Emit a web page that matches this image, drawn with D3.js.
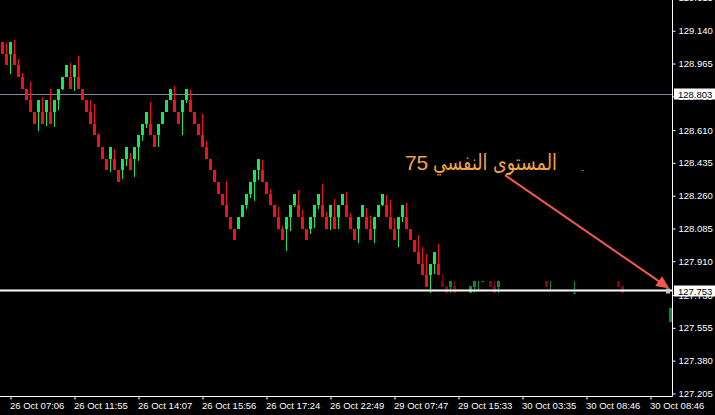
<!DOCTYPE html>
<html>
<head>
<meta charset="utf-8">
<script src="https://cdn.jsdelivr.net/npm/d3@7"></script>
<style>
  html, body { margin: 0; padding: 0; background: #000; }
  svg { display: block; }
</style>
</head>
<body>
<div id="chart"></div>
<script>
// candles 0..109, one per slot
var opens = [129.080,129.018,129.018,129.018,128.955,128.893,128.831,128.769,128.706,128.706,
  128.706,128.706,128.706,128.706,128.769,128.831,128.893,128.893,128.893,128.893,
  128.831,128.769,128.706,128.644,128.582,128.520,128.457,128.457,128.457,128.395,
  128.395,128.457,128.457,128.457,128.520,128.582,128.644,128.644,128.582,128.582,
  128.644,128.706,128.769,128.769,128.706,128.706,128.769,128.769,128.706,128.644,
  128.582,128.520,128.457,128.395,128.333,128.271,128.208,128.146,128.084,128.084,
  128.146,128.208,128.271,128.333,128.395,128.395,128.333,128.271,128.208,128.146,
  128.084,128.084,128.146,128.208,128.208,128.146,128.084,128.084,128.146,128.208,
  128.208,128.146,128.146,128.146,128.146,128.208,128.208,128.146,128.084,128.084,
  128.146,128.146,128.084,128.084,128.146,128.208,128.208,128.146,128.084,128.084,
  128.146,128.146,128.084,128.022,127.959,127.897,127.835,127.835,127.897,127.897];
var highs = [129.080,129.075,129.080,129.091,128.989,128.914,128.831,128.866,128.706,128.769,
  128.786,128.769,128.829,128.769,128.831,128.893,128.955,128.968,128.955,129.005,
  128.831,128.769,128.770,128.749,128.594,128.520,128.457,128.520,128.509,128.395,
  128.457,128.520,128.488,128.520,128.582,128.644,128.706,128.760,128.582,128.644,
  128.706,128.769,128.831,128.845,128.706,128.769,128.831,128.824,128.706,128.644,
  128.696,128.552,128.457,128.395,128.333,128.271,128.338,128.146,128.084,128.146,
  128.208,128.271,128.333,128.395,128.457,128.450,128.333,128.296,128.208,128.199,
  128.098,128.146,128.208,128.271,128.290,128.183,128.084,128.146,128.208,128.271,
  128.322,128.173,128.208,128.242,128.208,128.271,128.280,128.167,128.084,128.146,
  128.208,128.194,128.151,128.146,128.208,128.271,128.263,128.237,128.141,128.146,
  128.208,128.221,128.084,128.022,128.050,127.986,127.949,127.897,127.959,128.002];
var lows = [129.018,128.955,128.909,128.955,128.893,128.831,128.769,128.706,128.644,128.605,
  128.644,128.632,128.644,128.626,128.717,128.824,128.893,128.831,128.818,128.831,
  128.769,128.706,128.644,128.582,128.520,128.457,128.395,128.386,128.395,128.333,
  128.349,128.418,128.395,128.360,128.445,128.552,128.621,128.582,128.520,128.520,
  128.644,128.706,128.769,128.706,128.644,128.584,128.754,128.706,128.644,128.582,
  128.520,128.457,128.395,128.333,128.271,128.208,128.146,128.084,128.022,128.082,
  128.146,128.189,128.247,128.231,128.344,128.333,128.271,128.208,128.146,128.084,
  128.022,127.965,128.071,128.199,128.146,128.084,128.022,128.055,128.087,128.189,
  128.146,128.084,128.077,128.084,128.082,128.208,128.146,128.084,128.022,128.007,
  128.146,128.084,128.022,128.007,128.146,128.205,128.146,128.084,128.022,127.986,
  128.119,128.084,128.022,127.959,127.897,127.835,127.773,127.741,127.842,127.835];
var closes = [129.018,128.955,129.080,128.955,128.893,128.831,128.769,128.706,128.644,128.769,
  128.644,128.769,128.644,128.769,128.831,128.893,128.955,128.831,128.955,128.831,
  128.769,128.706,128.644,128.582,128.520,128.457,128.395,128.520,128.395,128.333,
  128.457,128.520,128.395,128.520,128.582,128.644,128.706,128.582,128.520,128.644,
  128.706,128.769,128.831,128.706,128.644,128.769,128.831,128.706,128.644,128.582,
  128.520,128.457,128.395,128.333,128.271,128.208,128.146,128.084,128.022,128.146,
  128.208,128.271,128.333,128.395,128.457,128.333,128.271,128.208,128.146,128.084,
  128.022,128.146,128.208,128.271,128.146,128.084,128.022,128.146,128.208,128.271,
  128.146,128.084,128.208,128.084,128.208,128.271,128.146,128.084,128.022,128.146,
  128.208,128.084,128.022,128.146,128.208,128.271,128.146,128.084,128.022,128.146,
  128.208,128.084,128.022,127.959,127.897,127.835,127.773,127.897,127.959,127.835];

// thin, dimmed candles after the drop (slot numbers given explicitly)
var lateSlots = [110,111,112,113,117,118,119,120,122,123,124,136,137,143,145,154,155,167];
var lateOpens = [127.805,127.778,127.773,127.778,127.741,127.773,127.757,127.805,127.805,127.778,127.773,127.805,127.757,127.741,128.399,127.805,127.778,127.586];
var lateHighs = [127.842,127.778,127.805,127.805,127.778,127.805,127.805,127.805,127.805,127.805,127.805,127.805,127.805,127.805,128.399,127.805,127.778,127.660];
var lateLows = [127.773,127.741,127.741,127.741,127.741,127.741,127.757,127.805,127.773,127.741,127.741,127.773,127.757,127.741,128.399,127.773,127.741,127.586];
var lateCloses = [127.773,127.741,127.805,127.741,127.778,127.805,127.757,127.805,127.773,127.741,127.805,127.773,127.757,127.741,128.399,127.773,127.741,127.660];

// price axis labels and time axis labels
var priceTicks = [129.315,129.140,128.965,128.790,128.610,128.435,128.260,128.085,127.910,127.730,127.555,127.380,127.205];
var timeSlots = [2,18,34,50,66,82,98,114,130,146,162];
var timeLabels = ["26 Oct 07:06","26 Oct 11:55","26 Oct 14:07","26 Oct 15:56","26 Oct 17:24","26 Oct 22:49",
  "29 Oct 07:47","29 Oct 15:33","30 Oct 03:35","30 Oct 08:46","30 Oct 08:46"];

// horizontal levels and note
var levelGray = 128.803;
var levelWhite = 127.753;
var noteNumber = "75";
var noteWords = "المستوى النفسي";
var noteLeft = { slot: 100.6, price: 128.397 };   // left edge of "75"
var noteRight = { slot: 138.6, price: 128.397 };  // right edge of the words
var arrowFrom = { slot: 125.6, price: 128.370 };
var arrowTo = { slot: 166.7, price: 127.765 };

var width = 715, height = 415,
  plotRight = 672, plotBottom = 397;

var svg = d3.select("#chart").append("svg")
  .attr("width", width)
  .attr("height", height)
  .style("background", "#000");

var x = d3.scaleLinear().domain([0, 168]).range([2.5, 674.5]);
var y = d3.scaleLinear().domain([127.186, 129.304]).range([plotBottom, 0]);

var plot = svg.append("g");
plot.append("clipPath").attr("id", "clip")
  .append("rect").attr("x", 0).attr("y", 0).attr("width", plotRight).attr("height", plotBottom);
var inner = plot.append("g").attr("clip-path", "url(#clip)");

// gray level line
inner.append("line")
  .attr("x1", 0).attr("x2", plotRight)
  .attr("y1", Math.round(y(levelGray)) + 0.5).attr("y2", Math.round(y(levelGray)) + 0.5)
  .attr("stroke", "#7b8ba0").attr("stroke-width", 1);

function drawCandles(g, slots, o, h, l, c, up, down) {
  var data = slots.map(function (s, i) {
    return { slot: s, o: o[i], h: h[i], l: l[i], c: c[i] };
  });
  var cg = g.selectAll(null).data(data).enter().append("g");
  cg.append("line")
    .attr("x1", function (d) { return x(d.slot); })
    .attr("x2", function (d) { return x(d.slot); })
    .attr("y1", function (d) { return Math.round(y(d.h)); })
    .attr("y2", function (d) { return Math.round(y(d.l)); })
    .attr("stroke", function (d) { return d.c >= d.o ? up : down; })
    .attr("stroke-width", 1);
  cg.append("rect")
    .attr("x", function (d) { return x(d.slot) - 1.5; })
    .attr("width", 3)
    .attr("y", function (d) { return Math.round(y(Math.max(d.o, d.c))); })
    .attr("height", function (d) {
      return Math.max(1, Math.round(y(Math.min(d.o, d.c))) - Math.round(y(Math.max(d.o, d.c))));
    })
    .attr("fill", function (d) { return d.c >= d.o ? up : down; });
}

drawCandles(inner, d3.range(opens.length), opens, highs, lows, closes, "#14e85a", "#f0101e");
drawCandles(inner, lateSlots, lateOpens, lateHighs, lateLows, lateCloses, "#0a8a34", "#8a0010");

// white level line
var yw = Math.round(y(levelWhite)) - 0.5;
inner.append("line")
  .attr("x1", 0).attr("x2", plotRight)
  .attr("y1", yw).attr("y2", yw)
  .attr("stroke", "#fff").attr("stroke-width", 2);
inner.append("rect")
  .attr("x", 666).attr("y", yw - 2).attr("width", 4).attr("height", 5)
  .attr("fill", "#c8c8c8");

// arrow
var ax1 = x(arrowFrom.slot), ay1 = y(arrowFrom.price),
  ax2 = x(arrowTo.slot), ay2 = y(arrowTo.price);
var len = Math.sqrt((ax2 - ax1) * (ax2 - ax1) + (ay2 - ay1) * (ay2 - ay1)),
  ux = (ax2 - ax1) / len, uy = (ay2 - ay1) / len;
inner.append("line")
  .attr("x1", ax1).attr("y1", ay1)
  .attr("x2", ax2 - ux * 8).attr("y2", ay2 - uy * 8)
  .attr("stroke", "#f25a4c").attr("stroke-width", 2);
var bx = ax2 - ux * 13, by = ay2 - uy * 13;
inner.append("path")
  .attr("d", "M" + ax2 + "," + ay2 +
    "L" + (bx - uy * 6) + "," + (by + ux * 6) +
    "L" + (bx + uy * 6) + "," + (by - ux * 6) + "Z")
  .attr("fill", "#f25a4c");

// note text: number on the left, words to its right
var note = svg.append("g")
  .attr("fill", "#f2a546")
  .style("font-size", "21px");
note.append("text")
  .attr("x", x(noteLeft.slot))
  .attr("y", y(noteLeft.price))
  .attr("text-anchor", "start")
  .style("font-family", "'Liberation Sans', Arial, sans-serif")
  .text(noteNumber);
note.append("text")
  .attr("x", x(noteRight.slot))
  .attr("y", y(noteRight.price))
  .attr("direction", "rtl")
  .attr("text-anchor", "start")
  .attr("textLength", 124)
  .attr("lengthAdjust", "spacingAndGlyphs")
  .style("font-family", "'DejaVu Sans', sans-serif")
  .style("font-size", "22px")
  .text(noteWords);

// price axis
var yAxis = svg.append("g")
  .attr("transform", "translate(" + (plotRight + 0.5) + ",0)")
  .call(d3.axisRight(y).tickValues(priceTicks).tickFormat(d3.format(".3f")).tickSize(3).tickSizeOuter(0).tickPadding(3));
// time axis
var xAxis = svg.append("g")
  .attr("transform", "translate(0," + (plotBottom - 0.5) + ")")
  .call(d3.axisBottom(x).tickValues(timeSlots)
    .tickFormat(function (d, i) { return timeLabels[i]; })
    .tickSize(3).tickSizeOuter(0).tickPadding(3));
xAxis.select(".domain").attr("d", "M0,0H" + (plotRight + 0.5));
yAxis.select(".domain").attr("d", "M0,0V" + (plotBottom - 0.5));

[xAxis, yAxis].forEach(function (a) {
  a.select(".domain").attr("stroke", "#fff");
  a.selectAll(".tick line").attr("stroke", "#fff");
  a.selectAll(".tick text")
    .attr("fill", "#fff")
    .style("font-family", "'Liberation Sans', Arial, sans-serif")
    .style("font-size", "9.5px");
});
xAxis.selectAll(".tick text").attr("text-anchor", "start").attr("dx", -1);

// level boxes on the price axis
[levelGray, levelWhite].forEach(function (v) {
  var yy = y(v);
  svg.append("rect")
    .attr("x", plotRight + 2).attr("y", Math.round(yy) - 5.5)
    .attr("width", width - plotRight - 2).attr("height", 11)
    .attr("fill", "#fff");
  svg.append("text")
    .attr("x", plotRight + 6).attr("y", Math.round(yy) + 3.5)
    .attr("fill", "#000")
    .style("font-family", "'Liberation Sans', Arial, sans-serif")
    .style("font-size", "9.5px")
    .text(d3.format(".3f")(v));
});
</script>
</body>
</html>
